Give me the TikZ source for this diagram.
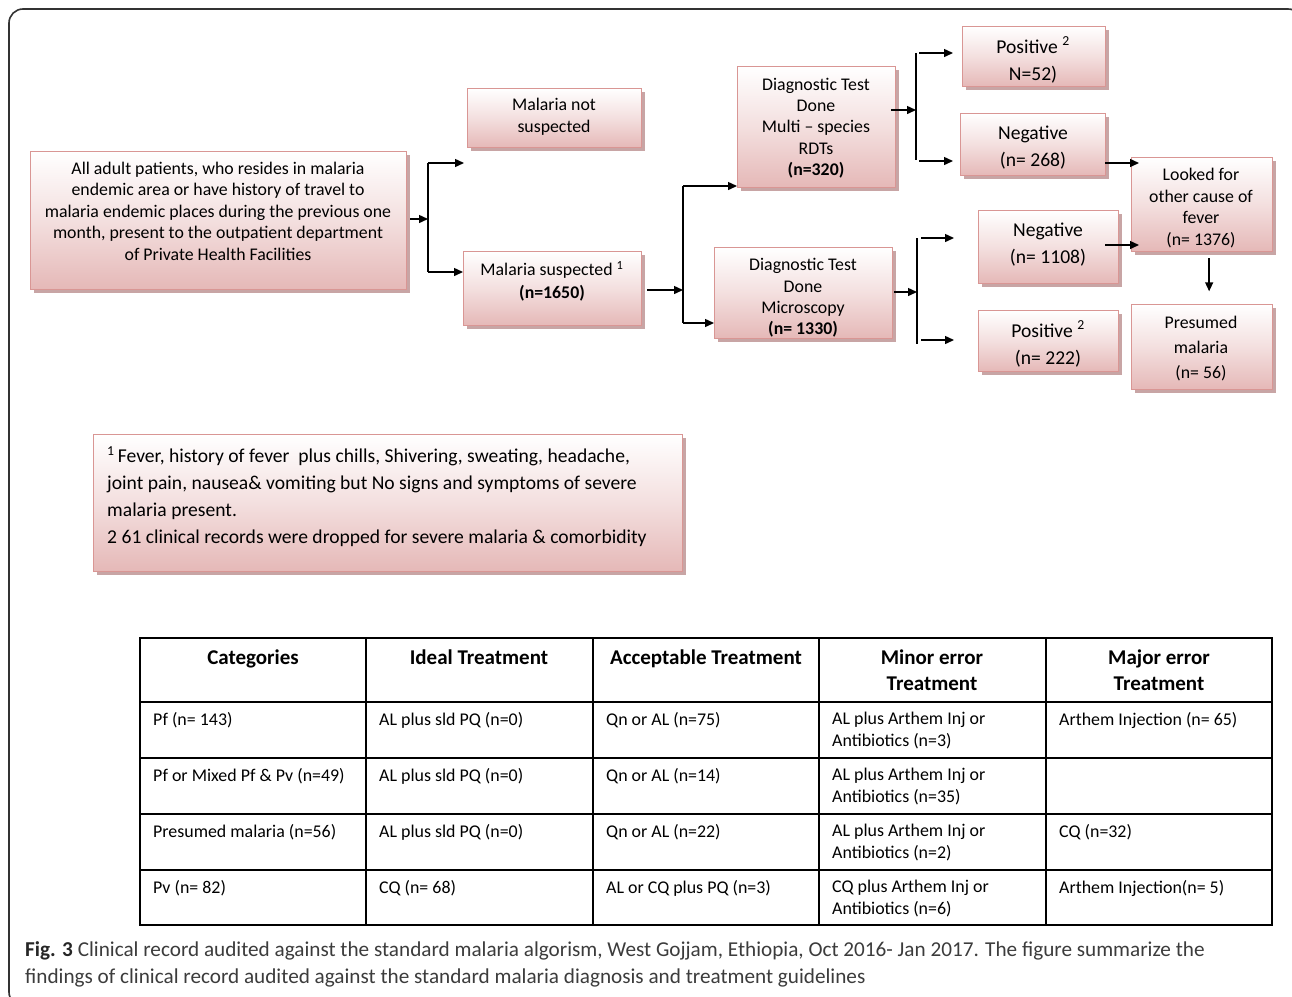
\documentclass[tikz,border=0pt]{standalone}
\usepackage{fontspec}
\setmainfont{Carlito}
\usetikzlibrary{arrows.meta,shadows,calc}
\definecolor{pinkline}{RGB}{217,150,148}
\definecolor{pinkb}{RGB}{229,184,183}
\definecolor{shadowc}{RGB}{200,165,165}
\definecolor{capc}{RGB}{60,60,60}
\tikzset{
  pbox/.style={draw=pinkline, line width=1.3pt, top color=white, bottom color=pinkb, middle color=pinkb!45,
    drop shadow={shadow xshift=3pt, shadow yshift=-3pt, fill=shadowc, opacity=1},
    anchor=north west, inner sep=0pt},
  txt/.style={align=center, inner sep=0pt, text=black},
  arr/.style={line width=1.4pt, -{Triangle[length=9pt,width=8pt]}},
  ln/.style={line width=1.4pt},
  tl/.style={line width=1.8pt},
  hd/.style={align=center, inner sep=0pt, anchor=north, font=\fontsize{21}{26}\selectfont\bfseries},
  cell/.style={align=left, inner sep=0pt, anchor=north west, font=\fontsize{17.9}{22}\selectfont}
}
\newcommand{\pb}[6]{\node[pbox, minimum width=#4-#2, minimum height=#5-#3] (#1) at (#2,#3) {};}
\begin{document}
\begin{tikzpicture}[x=1pt,y=-1pt]
\path[use as bounding box, fill=white] (0,0) rectangle (1292,996);
\begin{scope}
\clip (0,0) rectangle (1292,996);
\draw[rounded corners=14pt, line width=1.6pt, black!80] (9,9) rectangle (1302,1006);
\end{scope}
% boxes
\pb{a}{30}{151}{406}{289}{}
\node[txt, font=\fontsize{17.8}{21.5}\selectfont] (at) at (218,211) {All adult patients, who resides in malaria\\endemic area or have history of travel to\\malaria endemic places during the previous one\\month, present to the outpatient department\\of Private Health Facilities};
\pb{ns}{467}{88}{641}{147}{}
\node[txt, font=\fontsize{17.8}{22}\selectfont] (nst) at (554,117) {Malaria not\\suspected};
\pb{su}{463}{251}{641}{325}{}
\node[txt, font=\fontsize{17.8}{23}\selectfont] (sut) at (552,281) {Malaria suspected \textsuperscript{1}\\\textbf{(n=1650)}};
\pb{rdt}{737}{66}{895}{187}{}
\node[txt, font=\fontsize{17.8}{21.3}\selectfont] (rdtt) at (816,128) {Diagnostic Test\\Done\\Multi -- species\\RDTs\\\textbf{(n=320)}};
\pb{mic}{714}{247}{892}{338}{}
\node[txt, font=\fontsize{17.8}{21.3}\selectfont] (mict) at (803,298) {Diagnostic Test\\Done\\Microscopy\\\textbf{(n= 1330)}};
\pb{p1}{962}{26}{1105}{86}{}
\node[txt, font=\fontsize{19.6}{27}\selectfont] (p1t) at (1033,60) {Positive \textsuperscript{2}\\N=52)};
\pb{n1}{960}{113}{1105}{175}{}
\node[txt, font=\fontsize{19.6}{27}\selectfont] (n1t) at (1033,148) {Negative\\(n= 268)};
\pb{lk}{1131}{157}{1272}{251}{}
\node[txt, font=\fontsize{17.8}{21.5}\selectfont] (lkt) at (1201,208) {Looked for\\other cause of\\fever\\(n= 1376)};
\pb{n2}{978}{210}{1118}{283}{}
\node[txt, font=\fontsize{19.6}{27}\selectfont] (n2t) at (1048,245) {Negative\\(n= 1108)};
\pb{p2}{978}{310}{1118}{371}{}
\node[txt, font=\fontsize{19.6}{27}\selectfont] (p2t) at (1048,344) {Positive \textsuperscript{2}\\(n= 222)};
\pb{pm}{1131}{304}{1272}{389}{}
\node[txt, font=\fontsize{17.8}{25}\selectfont] (pmt) at (1201,349) {Presumed\\malaria\\(n= 56)};
% footnote box
\pb{fn}{93}{434}{682}{571}{}
\node[align=left, inner sep=0pt, anchor=north west, font=\fontsize{19.6}{27}\selectfont] (fnt) at (107,446) {\textsuperscript{1}\,Fever, history of fever\ \ plus chills, Shivering, sweating, headache,\\joint pain, nausea\& vomiting but No signs and symptoms of severe\\malaria present.\\2 61 clinical records were dropped for severe malaria \& comorbidity};
% connectors
\coordinate (j1t) at (428,163); \coordinate (j1b) at (428,272); \coordinate (j1m) at (428,219);
\draw[arr] ($(a.east |- j1m)+(3,0)$) -- (j1m);
\draw[ln] (j1t) -- (j1b);
\draw[arr] (j1t) -- ($(j1t -| ns.west)+(-3,0)$);
\draw[arr] (j1b) -- (j1b -| su.west);
\coordinate (j2t) at (683,186); \coordinate (j2b) at (683,323); \coordinate (j2m) at (683,290);
\draw[arr] ($(su.east |- j2m)+(5,0)$) -- (j2m);
\draw[ln] (j2t) -- (j2b);
\draw[arr] (j2t) -- (j2t -| rdt.west);
\draw[arr] (j2b) -- (j2b -| mic.west);
\coordinate (j3t) at (916,53); \coordinate (j3b) at (916,160); \coordinate (j3m) at (916,110);
\draw[arr] ($(rdt.east |- j3m)+(-5,0)$) -- (j3m);
\draw[ln] (j3t) -- (j3b);
\draw[arr] ($(j3t)+(3,0)$) -- ($(j3t -| p1.west)+(-9,0)$);
\draw[arr] ($(j3b)+(3,1)$) -- ($(j3b -| n1.west)+(-7,1)$);
\coordinate (j4t) at (917,238); \coordinate (j4b) at (917,344); \coordinate (j4m) at (917,292);
\draw[arr] ($(mic.east |- j4m)+(1,0)$) -- (j4m);
\draw[ln] (j4t) -- (j4b);
\draw[arr] ($(j4t)+(4,0)$) -- ($(j4t -| n2.west)+(-24,0)$);
\draw[arr] ($(j4b)+(4,-4)$) -- ($(j4b -| p2.west)+(-24,-4)$);
\coordinate (c1) at (1105,163); \coordinate (c2) at (1105,245);
\draw[arr] (c1) -- ($(c1 -| lk.west)+(8,0)$);
\draw[arr] (c2) -- ($(c2 -| lk.west)+(8,0)$);
\draw[arr] ($(lk.south)+(7,6)$) -- ($(lk.south)+(7,39)$);
% table
\draw[tl] (140,638) rectangle (1272,925);
\foreach \xx in {366,593,819,1046} \draw[tl] (\xx,638) -- (\xx,925);
\foreach \yy in {702,758,814,870} \draw[tl] (140,\yy) -- (1272,\yy);
\node[hd] (h1) at (253,650) {Categories};
\node[hd] (h2) at (479,650) {Ideal Treatment};
\node[hd] (h3) at (706,650) {Acceptable Treatment};
\node[hd] (h4) at (932,650) {Minor error\\Treatment};
\node[hd] (h5) at (1159,650) {Major error\\Treatment};
\node[cell] (r1c1) at (153,712) {Pf (n= 143)};
\node[cell] (r1c2) at (379,712) {AL plus sld PQ (n=0)};
\node[cell] (r1c3) at (606,712) {Qn or AL (n=75)};
\node[cell] (r1c4) at (832,712) {AL plus Arthem Inj or\\Antibiotics (n=3)};
\node[cell] (r1c5) at (1059,712) {Arthem Injection (n= 65)};
\node[cell] (r2c1) at (153,768) {Pf or Mixed Pf \& Pv (n=49)};
\node[cell] (r2c2) at (379,768) {AL plus sld PQ (n=0)};
\node[cell] (r2c3) at (606,768) {Qn or AL (n=14)};
\node[cell] (r2c4) at (832,768) {AL plus Arthem Inj or\\Antibiotics (n=35)};
\node[cell] (r3c1) at (153,824) {Presumed malaria (n=56)};
\node[cell] (r3c2) at (379,824) {AL plus sld PQ (n=0)};
\node[cell] (r3c3) at (606,824) {Qn or AL (n=22)};
\node[cell] (r3c4) at (832,824) {AL plus Arthem Inj or\\Antibiotics (n=2)};
\node[cell] (r3c5) at (1059,824) {CQ (n=32)};
\node[cell] (r4c1) at (153,880) {Pv (n= 82)};
\node[cell] (r4c2) at (379,880) {CQ (n= 68)};
\node[cell] (r4c3) at (606,880) {AL or CQ plus PQ (n=3)};
\node[cell] (r4c4) at (832,880) {CQ plus Arthem Inj or\\Antibiotics (n=6)};
\node[cell] (r4c5) at (1059,880) {Arthem Injection(n= 5)};
% caption
\node[anchor=west, inner sep=0pt, text=capc, font=\fontsize{21.2}{27}\selectfont] (cap1) at (25,951) {\textbf{\color{black!85}Fig. 3} Clinical record audited against the standard malaria algorism, West Gojjam, Ethiopia, Oct 2016- Jan 2017. The figure summarize the};
\node[anchor=west, inner sep=0pt, text=capc, font=\fontsize{21.2}{27}\selectfont] (cap2) at (25,978) {findings of clinical record audited against the standard malaria diagnosis and treatment guidelines};
\end{tikzpicture}
\end{document}
